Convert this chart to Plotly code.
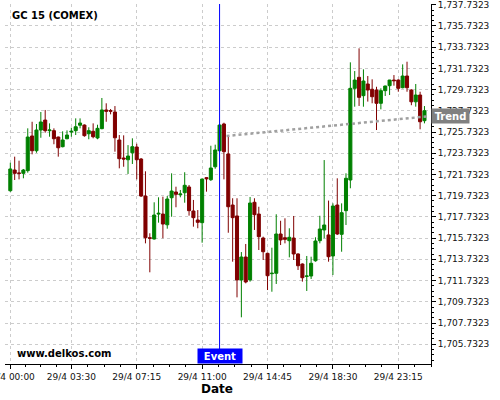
import plotly.graph_objects as go

title_text = "GC 15 (COMEX)"
tick_idx = [0, 14, 29, 44, 59, 74, 89]
tick_labels = ["29/4 00:00", "29/4 03:30", "29/4 07:15", "29/4 11:00",
               "29/4 14:45", "29/4 18:30", "29/4 23:15"]
y_tick_vals = [1705.7323, 1707.7323, 1709.7323, 1711.7323, 1713.7323, 1715.7323,
               1717.7323, 1719.7323, 1721.7323, 1723.7323, 1725.7323, 1727.7323,
               1729.7323, 1731.7323, 1733.7323, 1735.7323, 1737.7323]
y_tick_labels = ["1,705.7323", "1,707.7323", "1,709.7323", "1,711.7323", "1,713.7323",
                 "1,715.7323", "1,717.7323", "1,719.7323", "1,721.7323", "1,723.7323",
                 "1,725.7323", "1,727.7323", "1,729.7323", "1,731.7323", "1,733.7323",
                 "1,735.7323", "1,737.7323"]

opens = [1720.20, 1722.15, 1721.87, 1721.84, 1722.09, 1725.36, 1723.97, 1725.92, 1726.86, 1725.86,
         1725.86, 1725.26, 1724.35, 1725.10, 1725.73, 1725.86, 1726.37, 1726.39, 1725.57, 1725.80,
         1725.17, 1726.05, 1727.81, 1727.75, 1727.62, 1724.98, 1723.28, 1723.12, 1723.78, 1724.32,
         1723.19, 1719.70, 1715.77, 1715.65, 1718.00, 1718.00, 1716.99, 1719.54, 1720.08, 1719.83,
         1720.01, 1720.55, 1718.29, 1717.44, 1717.19, 1721.43, 1721.24, 1722.46, 1723.97, 1726.49,
         1723.66, 1718.85, 1717.82, 1711.79, 1713.95, 1711.79, 1719.11, 1718.00, 1715.74, 1714.30,
         1712.38, 1712.42, 1716.12, 1715.77, 1715.49, 1715.74, 1714.24, 1713.29, 1712.13, 1712.16,
         1713.60, 1715.49, 1716.50, 1716.03, 1714.05, 1718.85, 1716.09, 1718.32, 1721.21, 1729.85,
         1730.89, 1729.16, 1730.26, 1729.76, 1729.69, 1728.44, 1729.63, 1730.10, 1730.63, 1730.63,
         1729.91, 1731.01, 1729.69, 1728.58, 1729.22, 1726.80]
highs = [1722.84, 1723.41, 1723.03, 1722.25, 1726.08, 1726.70, 1726.49, 1727.62, 1727.81, 1726.55,
         1726.08, 1725.30, 1725.80, 1725.89, 1726.14, 1727.02, 1727.02, 1726.45, 1726.18, 1726.55,
         1726.42, 1728.94, 1728.44, 1727.90, 1728.18, 1725.45, 1725.42, 1724.50, 1725.14, 1724.63,
         1723.28, 1722.03, 1716.19, 1719.11, 1719.58, 1719.64, 1719.70, 1721.84, 1720.58, 1720.27,
         1721.94, 1720.74, 1719.33, 1718.38, 1721.33, 1721.49, 1724.44, 1724.54, 1726.49, 1726.61,
         1725.45, 1719.49, 1719.49, 1714.42, 1715.18, 1719.61, 1719.49, 1718.69, 1715.87, 1714.35,
         1714.83, 1717.98, 1717.37, 1717.60, 1716.66, 1717.82, 1714.30, 1713.35, 1714.05, 1713.98,
         1715.81, 1717.84, 1723.09, 1719.27, 1719.01, 1721.37, 1719.01, 1721.84, 1732.30, 1731.48,
         1733.62, 1731.64, 1731.01, 1730.70, 1730.00, 1729.85, 1730.10, 1730.65, 1731.10, 1730.70,
         1732.11, 1732.36, 1729.76, 1730.26, 1729.53, 1728.18]
lows = [1720.10, 1721.21, 1721.27, 1721.37, 1721.90, 1723.63, 1723.78, 1725.19, 1725.67, 1725.29,
        1724.58, 1723.41, 1724.29, 1725.05, 1725.29, 1725.45, 1726.08, 1725.29, 1725.05, 1725.14,
        1725.05, 1725.99, 1726.70, 1727.40, 1723.88, 1722.31, 1722.46, 1721.78, 1722.72, 1721.27,
        1719.61, 1715.24, 1712.51, 1715.60, 1717.19, 1715.72, 1716.62, 1717.75, 1718.64, 1719.58,
        1719.07, 1717.85, 1716.81, 1716.66, 1715.30, 1720.11, 1721.12, 1722.27, 1723.91, 1721.27,
        1716.24, 1713.51, 1710.15, 1708.27, 1711.47, 1711.63, 1716.50, 1714.61, 1713.67, 1710.84,
        1710.68, 1711.41, 1715.08, 1715.24, 1713.92, 1713.67, 1712.73, 1711.63, 1710.75, 1711.88,
        1713.51, 1715.24, 1715.72, 1713.51, 1712.26, 1716.03, 1714.45, 1716.97, 1720.43, 1728.12,
        1728.19, 1728.12, 1728.60, 1728.44, 1725.92, 1727.87, 1729.13, 1729.22, 1730.10, 1729.53,
        1729.85, 1729.53, 1728.26, 1728.12, 1725.99, 1726.55]
closes = [1722.25, 1721.84, 1721.84, 1722.15, 1725.26, 1723.97, 1725.92, 1726.68, 1725.86, 1725.92,
          1725.10, 1724.25, 1724.98, 1725.45, 1725.80, 1726.23, 1726.58, 1725.39, 1725.86, 1725.29,
          1726.08, 1727.81, 1727.69, 1727.70, 1725.19, 1723.22, 1723.19, 1723.47, 1724.35, 1723.12,
          1719.70, 1715.77, 1715.72, 1717.91, 1718.07, 1717.06, 1719.42, 1720.17, 1719.86, 1719.89,
          1720.71, 1718.32, 1717.66, 1717.22, 1721.30, 1721.33, 1722.34, 1724.04, 1726.39, 1723.88,
          1718.69, 1717.66, 1711.79, 1713.95, 1711.60, 1719.04, 1717.94, 1715.87, 1714.45, 1712.19,
          1712.42, 1716.12, 1715.56, 1715.62, 1715.81, 1714.24, 1713.13, 1712.00, 1712.16, 1713.36,
          1715.46, 1716.59, 1716.97, 1713.98, 1718.76, 1716.12, 1718.13, 1721.37, 1729.85, 1730.63,
          1729.00, 1730.54, 1729.69, 1729.06, 1728.44, 1729.63, 1730.07, 1730.63, 1730.57, 1729.85,
          1731.01, 1729.91, 1728.58, 1729.22, 1726.70, 1727.74]

event_idx = 48
trend_x = [49.6, 95.5]
trend_y = [1725.36, 1727.20]

x_idx = list(range(len(opens)))
FONT = "DejaVu Sans"
GREEN = "#008000"
RED = "#800000"

fig = go.Figure()
fig.add_trace(go.Candlestick(
    x=x_idx, open=opens, high=highs, low=lows, close=closes,
    increasing=dict(line=dict(color=GREEN, width=1), fillcolor=GREEN),
    decreasing=dict(line=dict(color=RED, width=1), fillcolor=RED),
    whiskerwidth=0, hoverinfo="skip", showlegend=False,
))
fig.add_trace(go.Scatter(
    x=trend_x, y=trend_y, mode="lines",
    line=dict(color="#a0a0a0", width=2.5, dash="dot"),
    hoverinfo="skip", showlegend=False,
))

# minor x ticks: quarters between major ticks
minor_x = []
ext = tick_idx + [tick_idx[-1] + 15]
for a, b in zip(ext[:-1], ext[1:]):
    for k in (1, 2, 3):
        minor_x.append(a + (b - a) * k / 4)

fig.add_shape(type="line", xref="x", yref="paper", x0=event_idx, x1=event_idx,
              y0=0.0389, y1=1, line=dict(color="#0000ff", width=1))

fig.add_annotation(xref="x", yref="paper", x=event_idx, y=0, yanchor="bottom",
                   text="<b>Event</b>", showarrow=False, bgcolor="#0000ff",
                   font=dict(family=FONT, size=10, color="white"),
                   width=44, height=14, borderpad=0)
fig.add_annotation(xref="paper", yref="y", x=1, y=trend_y[-1], xanchor="left",
                   text="<b>Trend</b>", showarrow=False, bgcolor="#808080",
                   font=dict(family=FONT, size=10, color="white"),
                   width=37, height=14, borderpad=0)
fig.add_annotation(xref="paper", yref="paper", x=0.0117, y=0.968, xanchor="left",
                   yanchor="middle", text="<b>" + title_text + "</b>", showarrow=False,
                   font=dict(family=FONT, size=10, color="black"))
fig.add_annotation(xref="paper", yref="paper", x=0.0235, y=0.028, xanchor="left",
                   yanchor="middle", text="<b>www.delkos.com</b>", showarrow=False,
                   font=dict(family=FONT, size=10, color="black"))
fig.add_annotation(xref="paper", yref="paper", x=0.498, y=-0.0708, xanchor="center",
                   yanchor="middle", text="<b>Date</b>", showarrow=False,
                   font=dict(family=FONT, size=12, color="black"))

fig.update_layout(
    width=500, height=400,
    margin=dict(l=5, r=69, t=4, b=36),
    paper_bgcolor="white", plot_bgcolor="white",
    boxgap=0,
    font=dict(family=FONT, size=9, color="#111111"),
    xaxis=dict(
        range=[-1.22, 96.5], rangeslider=dict(visible=False),
        automargin=False, ticklabeloverflow="allow",
        tickmode="array", tickvals=tick_idx, ticktext=tick_labels,
        ticks="outside", ticklen=4, tickcolor="#000000",
        showline=True, linecolor="#000000", linewidth=1,
        showgrid=True, gridcolor="#cccccc", griddash="3px,3px", gridwidth=1,
        zeroline=False,
        minor=dict(tickmode="array", tickvals=minor_x, ticks="outside", ticklen=2,
                   tickcolor="#000000", showgrid=False),
        tickfont=dict(family=FONT, size=9),
    ),
    yaxis=dict(
        side="right", range=[1703.868, 1737.799],
        automargin=False, ticklabeloverflow="allow",
        tickmode="array", tickvals=y_tick_vals, ticktext=y_tick_labels,
        ticks="outside", ticklen=4, tickcolor="#000000",
        showline=True, linecolor="#000000", linewidth=1,
        showgrid=True, gridcolor="#cccccc", griddash="3px,3px", gridwidth=1,
        zeroline=False,
        minor=dict(dtick=0.5, tick0=1705.7323, ticks="outside", ticklen=2,
                   tickcolor="#000000", showgrid=False),
        tickfont=dict(family=FONT, size=9),
    ),
)

fig.write_html("out.html",
               config={"displayModeBar": False},
               post_script="document.body.style.margin='0px';document.body.style.overflow='hidden';")
